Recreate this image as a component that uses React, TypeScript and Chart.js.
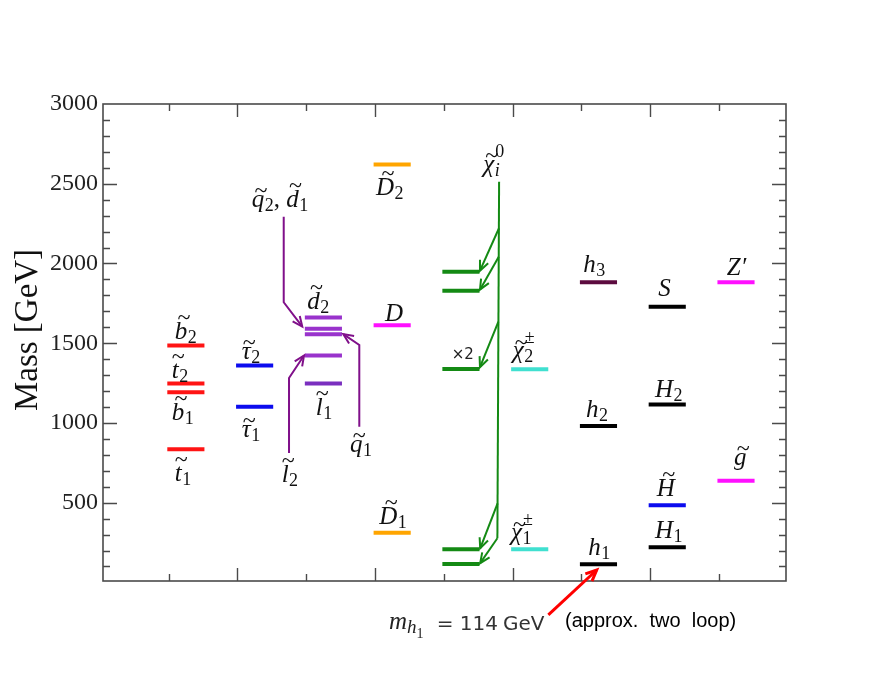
import { useEffect, useRef } from 'react';
import { Chart, registerables } from 'chart.js';

Chart.register(...registerables);

// ---- data (GeV) ----
const columnCategories = ['stop/sbottom', 'stau', 'squark/slepton', 'exotic D', 'neutralino', 'chargino', 'h', 'H/S', 'gluino/Zprime'];
const stopSbottomMasses = [835, 1193, 1247, 1485]; // t1, b1, t2, b2
const stauMasses = [1101, 1360]; // tau1, tau2
const sfermionMasses = [1247, 1423, 1557, 1590, 1661]; // l1, l2, q1, q2/d1, d2
const exoticMasses = [312, 1613, 2621]; // D1, D, D2
const neutralinoMasses = [115, 208, 1339, 1829, 1948];
const charginoMasses = [208, 1337];
const lightHiggsMasses = [114, 981, 1883]; // h1, h2, h3
const heavyHiggsMasses = [220, 484, 1115, 1728]; // H1, Htilde, H2, S
const gluinoZpMasses = [638, 1883]; // gluino, Z'
const yTickLabels = [500, 1000, 1500, 2000, 2500, 3000];

// ---- styles ----
const RED = '#ff1414', BLUE = '#0c0cee', PURPLE = '#9933cc', PURPLE_D = '#7a2fbf', ORANGE = '#ffa500',
  MAGENTA = '#ff10ff', GREEN = '#148a14', CYAN = '#40e0d0', MAROON = '#5c0b3f', BLACK = '#000000';
const groups: { col: number; masses: number[]; colors: string[] }[] = [
  { col: 1, masses: stopSbottomMasses, colors: [RED, RED, RED, RED] },
  { col: 2, masses: stauMasses, colors: [BLUE, BLUE] },
  { col: 3, masses: sfermionMasses, colors: [PURPLE_D, PURPLE, PURPLE, PURPLE, PURPLE] },
  { col: 4, masses: exoticMasses, colors: [ORANGE, MAGENTA, ORANGE] },
  { col: 5, masses: neutralinoMasses, colors: [GREEN, GREEN, GREEN, GREEN, GREEN] },
  { col: 6, masses: charginoMasses, colors: [CYAN, CYAN] },
  { col: 7, masses: lightHiggsMasses, colors: [BLACK, BLACK, MAROON] },
  { col: 8, masses: heavyHiggsMasses, colors: [BLACK, BLUE, BLACK, BLACK] },
  { col: 9, masses: gluinoZpMasses, colors: [MAGENTA, MAGENTA] },
];

type Tok = { t: string; it?: boolean; tilde?: 'hi' | 'lo'; sub?: string; subIt?: boolean; sup?: string };
type Lbl = { toks: Tok[]; x: number; y: number; dy: number };

const labels: Lbl[] = [
  { toks: [{ t: 'b', tilde: 'hi', sub: '2' }], x: 1.09, y: stopSbottomMasses[3], dy: -7 },
  { toks: [{ t: 't', tilde: 'hi', sub: '2' }], x: 1.045, y: stopSbottomMasses[2], dy: -6 },
  { toks: [{ t: 'b', tilde: 'hi', sub: '1' }], x: 1.045, y: stopSbottomMasses[1], dy: 28 },
  { toks: [{ t: 't', tilde: 'hi', sub: '1' }], x: 1.09, y: stopSbottomMasses[0], dy: 32 },
  { toks: [{ t: 'τ', tilde: 'lo', sub: '2' }], x: 2.062, y: stauMasses[1], dy: -7 },
  { toks: [{ t: 'τ', tilde: 'lo', sub: '1' }], x: 2.062, y: stauMasses[0], dy: 30 },
  { toks: [{ t: 'd', tilde: 'hi', sub: '2' }], x: 3.016, y: sfermionMasses[4], dy: -9 },
  { toks: [{ t: 'l', tilde: 'hi', sub: '1' }], x: 3.138, y: sfermionMasses[0], dy: 31 },
  { toks: [{ t: 'D', tilde: 'hi', sub: '2' }], x: 4.015, y: exoticMasses[2], dy: 31 },
  { toks: [{ t: 'D' }], x: 4.146, y: exoticMasses[1], dy: -4 },
  { toks: [{ t: 'D', tilde: 'hi', sub: '1' }], x: 4.063, y: exoticMasses[0], dy: -9 },
  { toks: [{ t: 'χ', tilde: 'lo', sub: '2', sup: '±' }], x: 6.003, y: charginoMasses[1], dy: -11 },
  { toks: [{ t: 'χ', tilde: 'lo', sub: '1', sup: '±' }], x: 5.978, y: charginoMasses[0], dy: -9 },
  { toks: [{ t: 'h', sub: '1' }], x: 7.102, y: lightHiggsMasses[0], dy: -9 },
  { toks: [{ t: 'h', sub: '2' }], x: 7.068, y: lightHiggsMasses[1], dy: -9 },
  { toks: [{ t: 'h', sub: '3' }], x: 7.03, y: lightHiggsMasses[2], dy: -10 },
  { toks: [{ t: 'H', sub: '1' }], x: 8.072, y: heavyHiggsMasses[0], dy: -9 },
  { toks: [{ t: 'H', tilde: 'hi' }], x: 8.096, y: heavyHiggsMasses[1], dy: -9 },
  { toks: [{ t: 'H', sub: '2' }], x: 8.072, y: heavyHiggsMasses[2], dy: -8 },
  { toks: [{ t: 'S' }], x: 8.12, y: heavyHiggsMasses[3], dy: -11 },
  { toks: [{ t: 'g', tilde: 'lo' }], x: 9.22, y: gluinoZpMasses[0], dy: -16 },
  { toks: [{ t: 'Z′' }], x: 9.115, y: gluinoZpMasses[1], dy: -7 },
  { toks: [{ t: 'χ', tilde: 'lo', sub: 'i', subIt: true, sup: '0' }], x: 5.575, y: 2513, dy: -10 },
  { toks: [{ t: 'q', tilde: 'lo', sub: '2' }, { t: ', ', it: false }, { t: 'd', tilde: 'hi', sub: '1' }], x: 2.207, y: 2293, dy: -10 },
  { toks: [{ t: 'l', tilde: 'hi', sub: '2' }], x: 2.643, y: 812, dy: 29 },
  { toks: [{ t: 'q', tilde: 'lo', sub: '1' }], x: 3.637, y: 976, dy: 25 },
];

// arrow paths in data coordinates
const greenArrows: [number, number][][] = [
  [[5.803, 2221], [5.527, 1955]],
  [[5.8, 2042], [5.527, 1836]],
  [[5.795, 1635], [5.527, 1350]],
  [[5.783, 496], [5.53, 214]],
  [[5.78, 277], [5.53, 121]],
];
const greenSpine: [number, number][] = [[5.805, 2513], [5.78, 277]];
const purpleArrows: [number, number][][] = [
  [[2.673, 2293], [2.673, 1757], [2.943, 1604]],
  [[2.75, 812], [2.75, 1282], [2.968, 1423]],
  [[3.772, 976], [3.772, 1489], [3.539, 1557]],
];
const redArrow: [number, number][] = [[6.521, -204], [7.224, 78]];

const SERIF = '"Liberation Serif", "Times New Roman", serif';

function drawMath(ctx: CanvasRenderingContext2D, x: number, y: number, toks: Tok[], size = 25) {
  let cx = x;
  const ss = 18;
  for (const tk of toks) {
    ctx.font = `${tk.it === false ? '' : 'italic '}${size}px ${SERIF}`;
    ctx.fillText(tk.t, cx, y);
    const w = ctx.measureText(tk.t).width;
    if (tk.tilde) {
      ctx.save();
      ctx.font = `${Math.round(size * 0.95)}px ${SERIF}`;
      const m = ctx.measureText('~');
      const ty = y - (tk.tilde === 'hi' ? 0.86 : 0.64) * size;
      const base = ty + (m.actualBoundingBoxAscent - m.actualBoundingBoxDescent) / 2;
      ctx.fillText('~', cx + w / 2 + size * 0.12 - m.width / 2, base);
      ctx.restore();
    }
    let sw = 0;
    if (tk.sup) {
      ctx.font = `${ss}px ${SERIF}`;
      ctx.fillText(tk.sup, cx + w + 1, y - size * 0.6);
      sw = Math.max(sw, ctx.measureText(tk.sup).width + 1);
    }
    if (tk.sub) {
      ctx.font = `${tk.subIt ? 'italic ' : ''}${ss}px ${SERIF}`;
      ctx.fillText(tk.sub, cx + w + 0.5, y + size * 0.16);
      sw = Math.max(sw, ctx.measureText(tk.sub).width + 0.5);
    }
    cx += w + sw;
  }
}

function drawArrow(ctx: CanvasRenderingContext2D, pts: [number, number][], color: string, lw: number, head: number, withHead = true) {
  ctx.save();
  ctx.strokeStyle = color;
  ctx.lineWidth = lw;
  ctx.lineJoin = 'miter';
  ctx.beginPath();
  pts.forEach(([px, py], i) => (i ? ctx.lineTo(px, py) : ctx.moveTo(px, py)));
  ctx.stroke();
  if (withHead) {
    const [x1, y1] = pts[pts.length - 2];
    const [x2, y2] = pts[pts.length - 1];
    const a = Math.atan2(y2 - y1, x2 - x1);
    const s = 0.42;
    ctx.beginPath();
    ctx.moveTo(x2 - head * Math.cos(a - s), y2 - head * Math.sin(a - s));
    ctx.lineTo(x2, y2);
    ctx.lineTo(x2 - head * Math.cos(a + s), y2 - head * Math.sin(a + s));
    ctx.stroke();
  }
  ctx.restore();
}

const decorPlugin = {
  id: 'decor',
  afterDraw(chart: any) {
    const ctx: CanvasRenderingContext2D = chart.ctx;
    const xs = chart.scales.x, ys = chart.scales.y;
    const X = (v: number) => xs.getPixelForValue(v);
    const Y = (v: number) => ys.getPixelForValue(v);
    const P = (p: [number, number][]) => p.map(([a, b]) => [X(a), Y(b)] as [number, number]);
    const { left, right, top, bottom } = chart.chartArea;
    ctx.save();
    // frame
    ctx.strokeStyle = '#4a4a4a';
    ctx.lineWidth = 1.6;
    ctx.strokeRect(left, top, right - left, bottom - top);
    // ticks
    ctx.lineWidth = 1.4;
    ctx.beginPath();
    for (let v = 100; v < 3000; v += 100) {
      const py = Math.round(Y(v)) + 0.5;
      const len = v % 500 === 0 ? 14 : 7;
      ctx.moveTo(left, py); ctx.lineTo(left + len, py);
      ctx.moveTo(right, py); ctx.lineTo(right - len, py);
    }
    for (let k = 1; k <= 9; k++) {
      const px = Math.round(X(k)) + 0.5;
      const len = k % 2 === 0 ? 13 : 7;
      ctx.moveTo(px, bottom); ctx.lineTo(px, bottom - len);
      ctx.moveTo(px, top); ctx.lineTo(px, top + len);
    }
    ctx.stroke();

    // arrows
    drawArrow(ctx, P(greenSpine), GREEN, 2, 0, false);
    greenArrows.forEach((a) => drawArrow(ctx, P(a), GREEN, 2, 11));
    purpleArrows.forEach((a) => drawArrow(ctx, P(a), '#80108a', 2, 11));
    drawArrow(ctx, P(redArrow), '#ff0000', 3, 12);

    // labels
    ctx.fillStyle = '#111';
    ctx.textAlign = 'left';
    ctx.textBaseline = 'alphabetic';
    labels.forEach((l) => drawMath(ctx, X(l.x), Y(l.y) + l.dy, l.toks));

    // x2 multiplicity
    ctx.font = '15px "DejaVu Sans", sans-serif';
    ctx.fillStyle = '#222';
    ctx.fillText('×2', X(5.116), Y(neutralinoMasses[2]) - 10);

    // y axis title
    ctx.save();
    ctx.translate(28, 330);
    ctx.rotate(-Math.PI / 2);
    ctx.font = `33px ${SERIF}`;
    ctx.textAlign = 'center';
    ctx.textBaseline = 'middle';
    ctx.fillStyle = '#111';
    ctx.fillText('Mass [GeV]', 0, 0);
    ctx.restore();

    // bottom annotation
    const bx = X(4.204), by = Y(-292);
    ctx.fillStyle = '#222';
    ctx.font = `italic 25px ${SERIF}`;
    ctx.fillText('m', bx, by);
    const mw = ctx.measureText('m').width;
    ctx.font = `italic 19px ${SERIF}`;
    ctx.fillText('h', bx + mw, by + 4);
    const hw = ctx.measureText('h').width;
    ctx.font = `14px ${SERIF}`;
    ctx.fillText('1', bx + mw + hw, by + 9);
    ctx.font = '20px "DejaVu Sans", sans-serif';
    ctx.fillStyle = '#333';
    ctx.fillText('= 114', X(4.897), by + 1);
    const w114 = ctx.measureText('= 114').width;
    ctx.fillText('GeV', X(4.897) + w114 + 5, by + 1);
    ctx.font = '20px "Liberation Sans", Arial, sans-serif';
    ctx.fillStyle = '#000';
    ctx.fillText('(approx.  two  loop)', X(6.763), Y(-279));
    ctx.restore();
  },
};

export default function App() {
  const ref = useRef<HTMLCanvasElement>(null);
  useEffect(() => {
    if (!ref.current) return;
    const datasets: any[] = [];
    groups.forEach((g, gi) => {
      g.masses.forEach((m, i) => {
        datasets.push({
          label: `${columnCategories[gi]} ${i + 1}`,
          data: [{ x: g.col - 0.02, y: m }, { x: g.col + 0.52, y: m }],
          borderColor: g.colors[i],
          borderWidth: 4,
          borderCapStyle: 'butt',
          pointRadius: 0,
          fill: false,
        });
      });
    });
    const chart = new Chart(ref.current, {
      type: 'line',
      data: { datasets },
      options: {
        animation: false,
        responsive: false,
        events: [],
        layout: { padding: { top: 104, right: 98, bottom: 103, left: 0 } },
        plugins: { legend: { display: false }, tooltip: { enabled: false } },
        scales: {
          x: { type: 'linear', min: 0.045, max: 9.977, display: false },
          y: {
            type: 'linear',
            min: 9,
            max: 3000,
            grid: { display: false, drawTicks: false },
            border: { display: false },
            afterFit: (s: any) => { s.width = 103; },
            afterBuildTicks: (s: any) => { s.ticks = yTickLabels.map((v) => ({ value: v })); },
            ticks: {
              padding: 5,
              color: '#222',
              font: { family: '"Liberation Serif", serif', size: 24 },
              callback: (v: any) => String(v),
            },
          },
        },
      },
      plugins: [decorPlugin],
    });
    return () => chart.destroy();
  }, []);
  return (
    <div style={{ position: 'fixed', left: 0, top: 0, width: 884, height: 684, background: '#fff' }}>
      <canvas ref={ref} width={884} height={684} style={{ display: 'block' }} />
    </div>
  );
}
